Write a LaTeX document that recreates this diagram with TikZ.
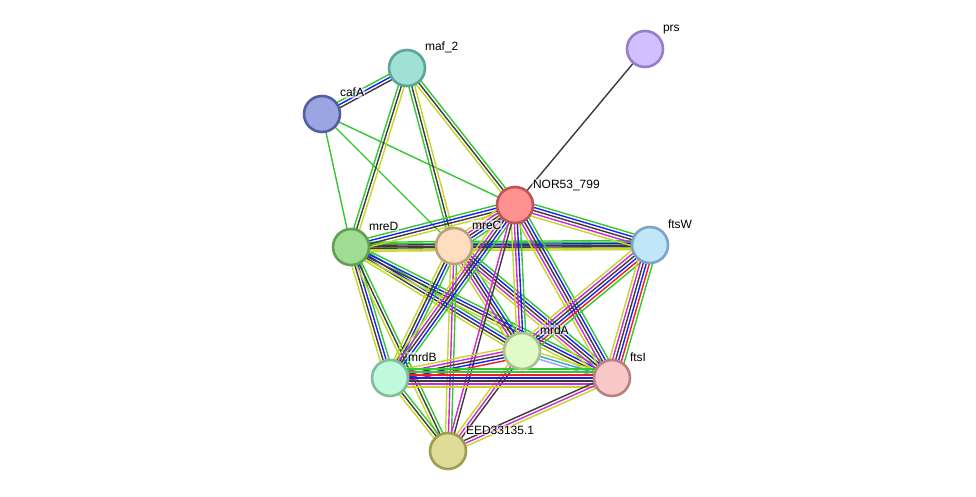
\documentclass[tikz,border=0pt]{standalone}
\usepackage{fontspec}
\setmainfont{Liberation Sans}
\usetikzlibrary{calc}
\pgfdeclarelayer{back}
\pgfdeclarelayer{bg}
\pgfsetlayers{back,bg,main}
\definecolor{eG}{RGB}{50,200,50}
\definecolor{eB}{RGB}{30,30,240}
\definecolor{eK}{RGB}{60,60,60}
\definecolor{eY}{RGB}{195,215,40}
\definecolor{eM}{RGB}{210,40,210}
\definecolor{eR}{RGB}{240,30,30}
\definecolor{eC}{RGB}{40,170,210}
\definecolor{eL}{RGB}{160,160,250}
\newcommand\ed[4]{%
  \foreach \cc [count=\ii] in {#4} {%
    \pgfmathsetmacro\oo{(\ii-(#3+1)/2)*3}%
    \draw[color=\cc, line width=1.4pt] ($(#1.center)!\oo pt!90:(#2.center)$) -- ($(#2.center)!\oo pt!-90:(#1.center)$);
  }%
}
\tikzset{
  prot/.style={circle, minimum size=36pt, inner sep=0pt, line width=2.6pt},
  lab/.style={anchor=base west, inner sep=0.8pt, fill=white, fill opacity=0.55, text opacity=1, font=\fontsize{12}{14}\selectfont, text=black}
}
\begin{document}
\begin{tikzpicture}[x=1pt,y=-1pt]
\begin{pgfonlayer}{back}
\fill[white] (0,0) rectangle (976,497);
\end{pgfonlayer}
\useasboundingbox (0,0) rectangle (976,497);
\node[prot, fill={rgb,255:red,209;green,192;blue,255}, draw={rgb,255:red,150;green,125;blue,200}] (prs) at (645,49) {};
\node[prot, fill={rgb,255:red,160;green,225;blue,215}, draw={rgb,255:red,90;green,165;blue,150}] (maf) at (407,68) {};
\node[prot, fill={rgb,255:red,155;green,165;blue,225}, draw={rgb,255:red,85;green,95;blue,160}] (cafA) at (322,114) {};
\node[prot, fill={rgb,255:red,255;green,145;blue,145}, draw={rgb,255:red,190;green,85;blue,85}] (nor) at (515,205) {};
\node[prot, fill={rgb,255:red,160;green,220;blue,145}, draw={rgb,255:red,95;green,160;blue,85}] (mreD) at (351,247) {};
\node[prot, fill={rgb,255:red,255;green,222;blue,192}, draw={rgb,255:red,190;green,160;blue,125}] (mreC) at (454,246) {};
\node[prot, fill={rgb,255:red,192;green,230;blue,250}, draw={rgb,255:red,125;green,165;blue,195}] (ftsW) at (650,245) {};
\node[prot, fill={rgb,255:red,225;green,250;blue,200}, draw={rgb,255:red,165;green,195;blue,140}] (mrdA) at (522,351) {};
\node[prot, fill={rgb,255:red,192;green,250;blue,220}, draw={rgb,255:red,125;green,190;blue,155}] (mrdB) at (390,378) {};
\node[prot, fill={rgb,255:red,248;green,200;blue,200}, draw={rgb,255:red,185;green,130;blue,130}] (ftsI) at (612,378) {};
\node[prot, fill={rgb,255:red,222;green,220;blue,150}, draw={rgb,255:red,160;green,155;blue,85}] (eed) at (448,451) {};
\begin{pgfonlayer}{bg}
\ed{prs}{nor}{1}{eK}
\ed{cafA}{maf}{3}{eK,eB,eG}
\ed{cafA}{nor}{1}{eG}
\ed{cafA}{mreD}{1}{eG}
\ed{cafA}{mreC}{1}{eG}
\ed{maf}{mreD}{3}{eG,eK,eY}
\ed{maf}{mreC}{3}{eG,eK,eY}
\ed{maf}{nor}{3}{eY,eK,eG}
\ed{mreD}{mrdB}{4}{eY,eK,eB,eG}
\ed{mreD}{mrdA}{4}{eY,eK,eB,eG}
\ed{mreD}{ftsI}{4}{eY,eK,eB,eG}
\ed{mreD}{eed}{3}{eY,eK,eG}
\ed{mreD}{ftsW}{3}{eY,eK,eG}
\ed{mreD}{mreC}{4}{eY,eK,eK,eG}
\ed{mreD}{nor}{4}{eY,eK,eB,eG}
\ed{mreC}{ftsW}{4}{eY,eK,eB,eG}
\ed{mreC}{mrdB}{4}{eY,eK,eB,eG}
\ed{mreC}{mrdA}{5}{eY,eM,eK,eB,eG}
\ed{mreC}{ftsI}{5}{eY,eM,eK,eB,eG}
\ed{mreC}{eed}{3}{eY,eM,eG}
\ed{nor}{mreC}{5}{eY,eM,eK,eB,eG}
\ed{nor}{ftsW}{5}{eY,eM,eK,eB,eG}
\ed{nor}{mrdA}{4}{eY,eM,eB,eG}
\ed{nor}{mrdB}{5}{eY,eM,eK,eB,eG}
\ed{nor}{ftsI}{5}{eY,eM,eK,eB,eG}
\ed{nor}{eed}{2}{eM,eK}
\ed{ftsW}{mrdA}{6}{eY,eM,eK,eB,eR,eG}
\ed{ftsW}{ftsI}{6}{eY,eM,eK,eB,eR,eG}
\ed{mrdB}{mrdA}{5}{eR,eB,eK,eM,eY}
\ed{mrdA}{ftsI}{3}{eL,eC,eY}
\ed{mrdA}{eed}{3}{eY,eM,eK}
\ed{mrdB}{ftsI}{7}{eY,eM,eK,eB,eR,eG,eG}
\ed{mrdB}{eed}{3}{eY,eK,eG}
\ed{ftsI}{eed}{3}{eK,eM,eY}
\end{pgfonlayer}
\node[lab] (lprs) at (662,32) {prs};
\node[lab] (lmaf) at (424,51) {maf\_2};
\node[lab] (lcafA) at (339,97) {cafA};
\node[lab] (lnor) at (532,188) {NOR53\_799};
\node[lab] (lmreD) at (368,230) {mreD};
\node[lab] (lmreC) at (471,229) {mreC};
\node[lab] (lftsW) at (667,228) {ftsW};
\node[lab] (lmrdA) at (539,334) {mrdA};
\node[lab] (lmrdB) at (407,361) {mrdB};
\node[lab] (lftsI) at (629,361) {ftsI};
\node[lab] (leed) at (465,434) {EED33135.1};
\end{tikzpicture}
\end{document}
